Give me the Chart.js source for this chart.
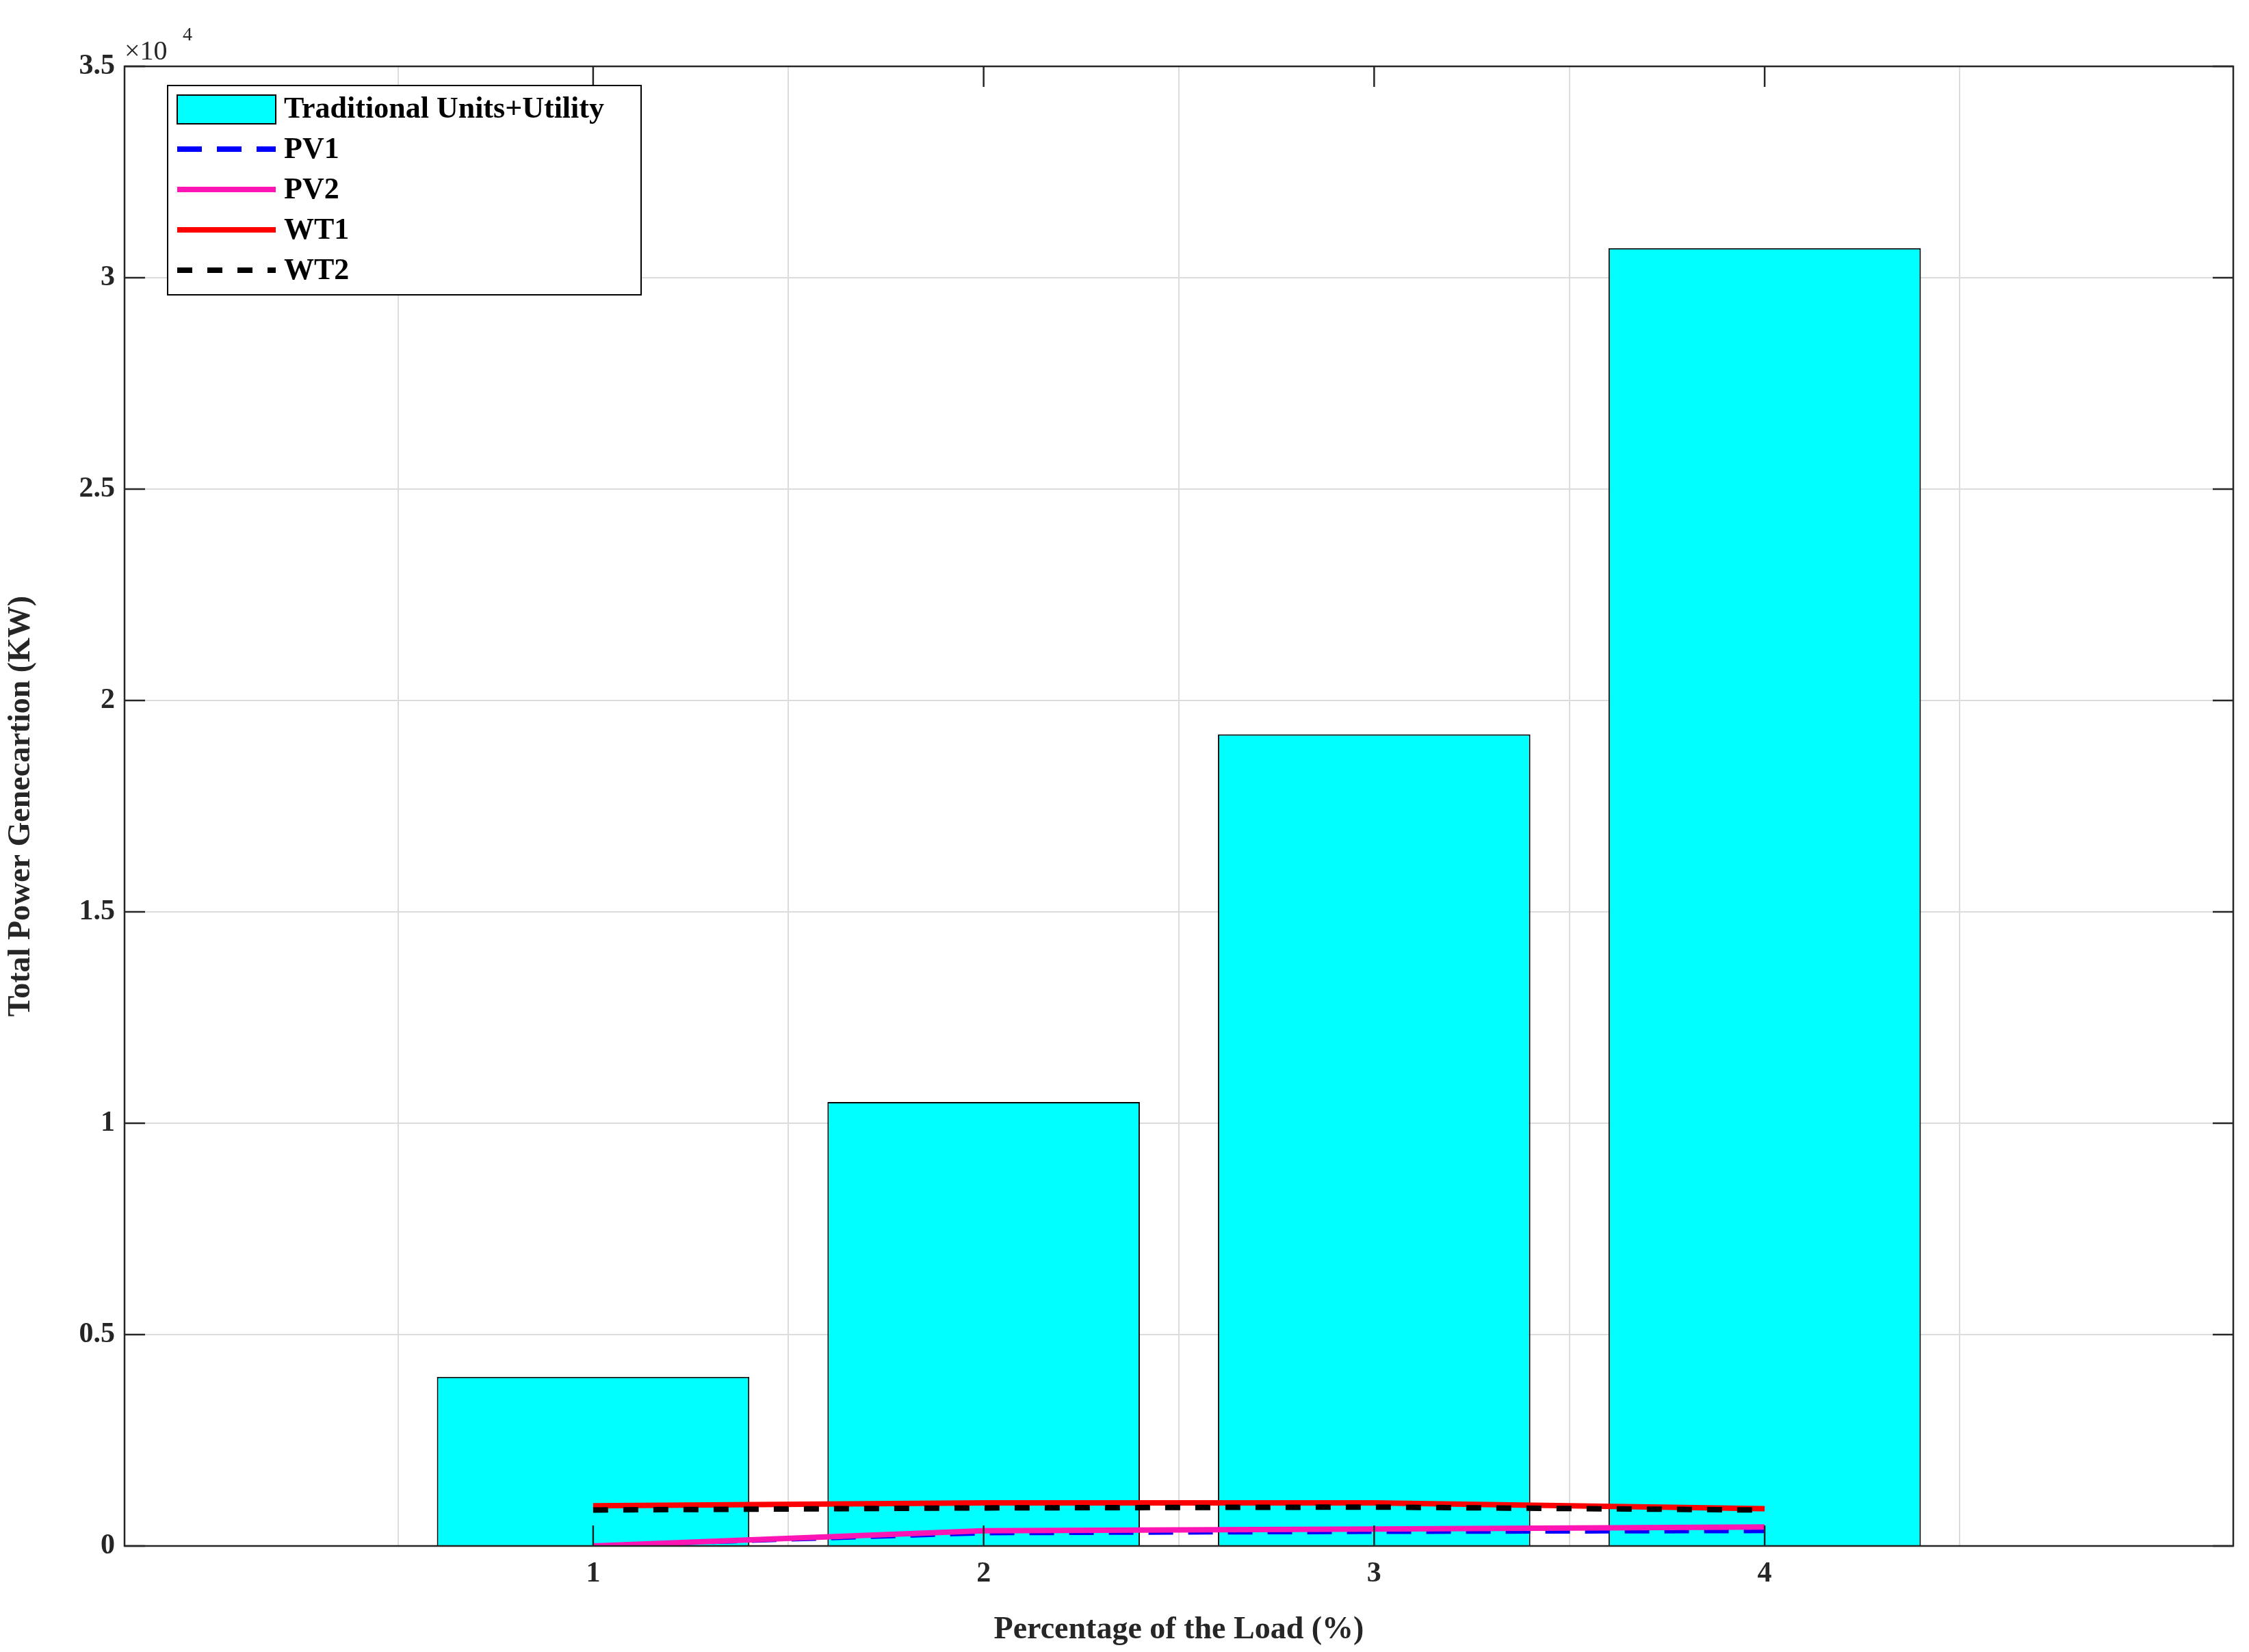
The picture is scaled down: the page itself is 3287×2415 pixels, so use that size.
<!DOCTYPE html>
<html><head><meta charset="utf-8">
<script src="https://cdn.jsdelivr.net/npm/chart.js@4"></script>
<style>html,body{margin:0;padding:0;background:#fff}#c{display:block}</style>
</head><body>
<canvas id="c" width="3287" height="2415"></canvas>
<script>
const categories = [1, 2, 3, 4];
const traditional = [4000, 10500, 19200, 30700];
const pv1 = [0, 300, 330, 350];
const pv2 = [0, 360, 400, 450];
const wt1 = [950, 1020, 1020, 880];
const wt2 = [850, 900, 920, 850];
const yTicks = [0, 5000, 10000, 15000, 20000, 25000, 30000, 35000];
const FONT = "'Liberation Serif', 'DejaVu Serif', serif";
const pts = a => categories.map((x, i) => ({x, y: a[i]}));

const boxPlugin = {
  id: 'box',
  afterDatasetsDraw(chart) {
    const {ctx, chartArea: a} = chart;
    ctx.save();
    ctx.strokeStyle = '#262626'; ctx.lineWidth = 2.5;
    ctx.strokeRect(a.left, a.top, a.right - a.left, a.bottom - a.top);
    // inward tick marks
    const xs = chart.scales.x, ys = chart.scales.y;
    ctx.beginPath();
    categories.forEach(v => { const px = xs.getPixelForValue(v);
      ctx.moveTo(px, a.bottom); ctx.lineTo(px, a.bottom - 30);
      ctx.moveTo(px, a.top); ctx.lineTo(px, a.top + 30); });
    yTicks.forEach(v => { const py = ys.getPixelForValue(v);
      ctx.moveTo(a.left, py); ctx.lineTo(a.left + 30, py);
      ctx.moveTo(a.right, py); ctx.lineTo(a.right - 30, py); });
    ctx.stroke();
    // exponent
    ctx.fillStyle = '#262626';
    ctx.font = `40px ${FONT}`; ctx.textBaseline = 'alphabetic';
    ctx.fillText('\u00d710', a.left, a.top - 10);
    ctx.font = `28px ${FONT}`;
    ctx.fillText('4', a.left + 85, a.top - 38);
    // legend
    const lx = 245, ly = 125, lw = 692, lh = 306;
    ctx.fillStyle = '#fff'; ctx.fillRect(lx, ly, lw, lh);
    ctx.strokeStyle = '#000'; ctx.lineWidth = 2; ctx.strokeRect(lx, ly, lw, lh);
    ctx.font = `bold 44px ${FONT}`; ctx.textBaseline = 'middle';
    chart.data.datasets.forEach((d, i) => {
      const cy = ly + 34 + i * 59;
      if (d.type === 'bar') {
        ctx.fillStyle = d.backgroundColor; ctx.fillRect(lx + 14, cy - 20, 144, 42);
        ctx.strokeStyle = '#000'; ctx.lineWidth = 2; ctx.strokeRect(lx + 14, cy - 20, 144, 42);
      } else {
        ctx.strokeStyle = d.borderColor; ctx.lineWidth = 8;
        ctx.setLineDash(d.borderDash || []);
        ctx.beginPath(); ctx.moveTo(lx + 14, cy); ctx.lineTo(lx + 158, cy); ctx.stroke();
        ctx.setLineDash([]);
      }
      ctx.fillStyle = '#000'; ctx.fillText(d.label, lx + 170, cy + 2);
    });
    ctx.restore();
  }
};

new Chart(document.getElementById('c'), {
  data: { datasets: [
    { type: 'bar', label: 'Traditional Units+Utility', data: pts(traditional), backgroundColor: '#0ff', borderColor: '#000', borderWidth: 2, barPercentage: 1, categoryPercentage: 0.8, order: 5 },
    { type: 'line', label: 'PV1', data: pts(pv1), borderColor: '#0000ff', borderDash: [36, 22], borderWidth: 6, pointRadius: 0, order: 4 },
    { type: 'line', label: 'PV2', data: pts(pv2), borderColor: '#ff14b4', borderWidth: 8, pointRadius: 0, order: 3 },
    { type: 'line', label: 'WT1', data: pts(wt1), borderColor: '#ff0000', borderWidth: 8, pointRadius: 0, order: 2 },
    { type: 'line', label: 'WT2', data: pts(wt2), borderColor: '#000', borderDash: [22, 22], borderWidth: 8, pointRadius: 0, order: 1 }
  ]},
  options: {
    responsive: false, animation: false,
    layout: { padding: { top: 97, right: 23, left: 0, bottom: 0 } },
    plugins: { legend: { display: false }, tooltip: { enabled: false } },
    scales: {
      x: { type: 'linear', min: -0.2, max: 5.2, offset: false,
        afterBuildTicks: s => { s.ticks = categories.map(v => ({value: v})); },
        afterFit: s => { s.height = 155; },
        grid: { color: '#dcdcdc', lineWidth: 2, drawTicks: false },
        border: { display: false },
        ticks: { color: '#262626', font: { family: FONT, size: 42, weight: 'bold' }, padding: 16 },
        title: { display: true, text: 'Percentage of the Load (%)', color: '#262626', font: { family: FONT, size: 46, weight: 'bold' }, padding: { top: 0 } } },
      y: { min: 0, max: 35000,
        afterBuildTicks: s => { s.ticks = yTicks.map(v => ({value: v})); },
        afterFit: s => { s.width = 182; },
        grid: { color: '#dcdcdc', lineWidth: 2, drawTicks: false },
        border: { display: false },
        ticks: { color: '#262626', font: { family: FONT, size: 42, weight: 'bold' }, padding: 14, callback: v => String(v / 10000) },
        title: { display: true, text: 'Total Power Genecartion (KW)', color: '#262626', font: { family: FONT, size: 46, weight: 'bold' }, padding: { bottom: 8 } } }
    }
  },
  plugins: [boxPlugin]
});
</script>
</body></html>
